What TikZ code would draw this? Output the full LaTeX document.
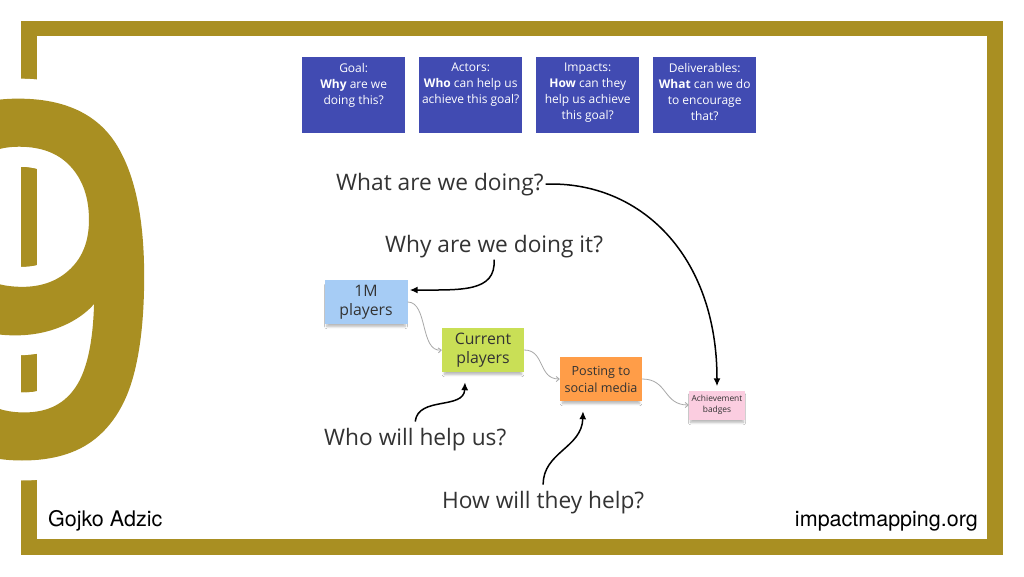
\documentclass[tikz,border=0pt]{standalone}
\usepackage{fontspec}
\setmainfont{Open Sans}
\newfontfamily\heros{TeX Gyre Heros}
\newfontfamily\ninefont{Poppins}
\usetikzlibrary{arrows.meta,shadows.blur}
\definecolor{gold}{HTML}{A98F22}
\definecolor{qblue}{HTML}{414BB2}
\definecolor{stblue}{HTML}{A6CCF5}
\definecolor{stgreen}{HTML}{C9DF56}
\definecolor{storange}{HTML}{FF9D48}
\definecolor{stpink}{HTML}{FBCDE0}
\definecolor{ink}{HTML}{333333}
\definecolor{linkgray}{HTML}{A8A8A8}
\newcommand\qtext[1]{\parbox[c][76pt][t]{103pt}{\centering\vspace*{6pt}#1}}
\newcommand\heavynine{\special{pdf:literal direct 2 Tr 12 w 1 j}9\special{pdf:literal direct 0 Tr 1 w 0 j}}
\begin{document}
\begin{tikzpicture}[x=1pt,y=-1pt,
  qbox/.style={fill=qblue, text=white, inner sep=0pt, anchor=north west,
    minimum width=103pt, minimum height=76pt, font=\fontsize{12}{16}\selectfont},
  sticky/.style={inner sep=0pt, align=center, text=ink,
    blur shadow={shadow xshift=0pt, shadow yshift=-4pt, shadow scale=0.94, shadow blur steps=6, shadow blur radius=2.5pt, shadow opacity=30}},
  bigsticky/.style={sticky, minimum width=83pt, minimum height=44pt, font=\fontsize{15.8}{19}\selectfont},
  label/.style={anchor=base west, inner sep=0pt, text=ink, font=\fontsize{22.7}{27}\selectfont},
  ninestyle/.style={anchor=base west, inner sep=0pt, font=\ninefont\fontsize{474}{474}\selectfont},
  foot/.style={inner sep=0pt, text=black, font=\heros\fontsize{21.5}{24}\selectfont},
  arr/.style={draw=black, line width=1.5pt, -{Latex[length=8pt,width=7pt]}},
  link/.style={draw=linkgray, line width=0.8pt, -{Straight Barb[length=3pt,width=5pt]}}
]
\useasboundingbox (0,0) rectangle (1024,576);
\fill[white] (0,0) rectangle (1024,576);
% frame
\fill[gold] (21,21) rectangle (1003,555);
\fill[white] (37,36) rectangle (987,539);
% big nine with a white halo that cuts the left bar
\foreach \a in {0,15,...,345}
  \node[ninestyle, text=white, shift={(\a:20)}] at (-129.4,454) {\heavynine};
\node[ninestyle, text=gold] (nine) at (-129.4,454) {\heavynine};

% question boxes
\node[qbox] (goal) at (302,57) {\qtext{Goal:\\\textbf{Why} are we\\doing this?}};
\node[qbox] (actors) at (419,57) {\qtext{Actors:\\\textbf{Who} can help us\\achieve this goal?}};
\node[qbox] (impacts) at (536,57) {\qtext{Impacts:\\\textbf{How} can they\\help us achieve\\this goal?}};
\node[qbox] (delivs) at (653,57) {\qtext{Deliverables:\\\textbf{What} can we do\\to encourage\\that?}};

% stickies
\node[bigsticky, fill=stblue] (m1) at (366,302) {1M\\players};
\node[bigsticky, fill=stgreen, minimum width=82pt] (cur) at (483,350) {Current\\players};
\node[sticky, fill=storange, minimum width=82pt, minimum height=44pt, font=\fontsize{12.6}{17}\selectfont] (post) at (601,379) {Posting to\\social media};
\node[sticky, fill=stpink, minimum width=56pt, minimum height=29pt, font=\fontsize{8.4}{11}\selectfont] (deliv) at (717,405) {Achievement\\badges};

% labels
\node[label] (what) at (336,190) {What are we doing?};
\node[label] (why) at (385,252) {Why are we doing it?};
\node[label] (who) at (324,445) {Who will help us?};
\node[label] (how) at (442,508) {How will they help?};

% links between stickies
\draw[link] (m1.east) .. controls (428,302) and (420,352) .. (cur.west);
\draw[link] (cur.east) .. controls (545,350) and (538,379) .. (post.west);
\draw[link] (post.east) .. controls (668,379) and (663,405) .. (deliv.west);

% question arrows
\draw[arr] ([xshift=2pt]what.east) .. controls (640,181) and (717,255) .. ([yshift=4pt]deliv.north);
\draw[arr] ([yshift=-2pt]why.south) .. controls (496,292) and (462,290) .. ([xshift=2pt,yshift=12pt]m1.east);
\draw[arr] ([yshift=6pt]who.north) .. controls (418,396) and (464,410) .. ([xshift=-18pt,yshift=-10pt]cur.south);
\draw[arr] ([yshift=6pt]how.north) .. controls (543,452) and (582,448) .. ([xshift=-18pt,yshift=-10pt]post.south);

% footer
\node[foot, anchor=base west] (author) at (48,526) {Gojko Adzic};
\node[foot, anchor=base east] (site) at (978,526) {impactmapping.org};
\end{tikzpicture}
\end{document}
